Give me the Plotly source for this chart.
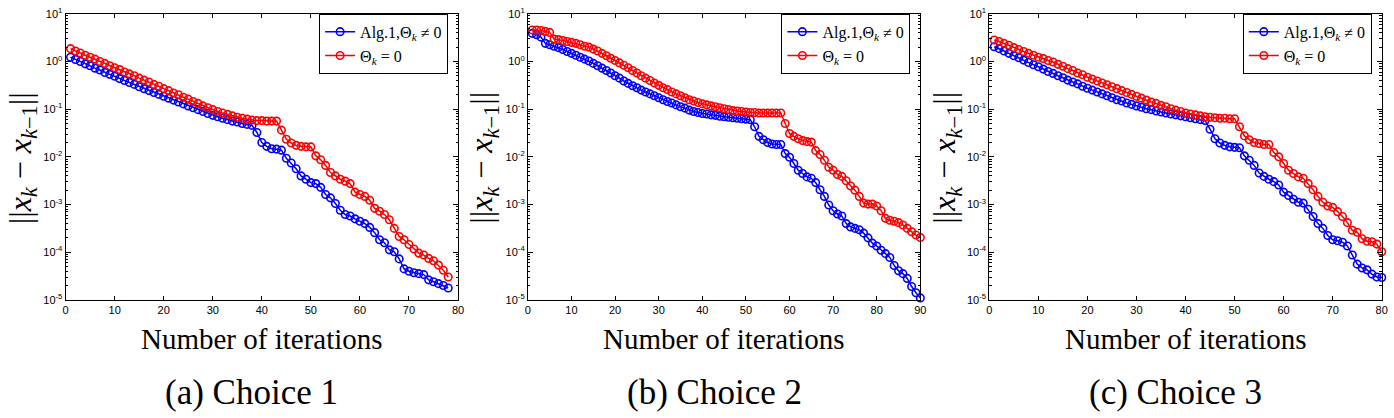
import plotly.graph_objects as go

# ---------------- data ----------------
iters_a = list(range(1, 79))
iters_b = list(range(1, 91))
iters_c = list(range(1, 81))

# (a) Choice 1
a_alg1 = [1.23, 1.10, 1.00, 8.91e-1, 8.13e-1, 7.24e-1, 6.61e-1, 5.89e-1, 5.37e-1, 4.90e-1,
          4.37e-1, 3.98e-1, 3.63e-1, 3.31e-1, 2.95e-1, 2.69e-1, 2.45e-1, 2.24e-1, 2.04e-1, 1.86e-1,
          1.70e-1, 1.55e-1, 1.41e-1, 1.29e-1, 1.17e-1, 1.07e-1, 9.77e-2, 8.91e-2, 8.13e-2, 7.41e-2,
          6.92e-2, 6.46e-2, 6.03e-2, 5.62e-2, 5.37e-2, 5.01e-2, 4.79e-2, 4.57e-2, 3.24e-2, 2.00e-2,
          1.66e-2, 1.48e-2, 1.45e-2, 1.38e-2, 9.33e-3, 7.41e-3, 5.62e-3, 3.98e-3, 3.39e-3, 2.88e-3,
          2.75e-3, 2.29e-3, 1.62e-3, 1.38e-3, 1.05e-3, 7.59e-4, 6.17e-4, 5.75e-4, 5.01e-4, 4.47e-4,
          3.98e-4, 3.31e-4, 2.57e-4, 1.82e-4, 1.58e-4, 1.12e-4, 1.02e-4, 7.24e-5, 4.47e-5, 3.98e-5,
          3.72e-5, 3.55e-5, 3.39e-5, 2.63e-5, 2.40e-5, 2.19e-5, 2.00e-5, 1.78e-5]
a_zero = [1.86, 1.66, 1.51, 1.35, 1.23, 1.12, 1.00, 9.12e-1, 8.13e-1, 7.41e-1,
          6.76e-1, 6.03e-1, 5.50e-1, 5.01e-1, 4.47e-1, 4.07e-1, 3.72e-1, 3.31e-1, 3.02e-1, 2.69e-1,
          2.45e-1, 2.19e-1, 2.00e-1, 1.78e-1, 1.62e-1, 1.45e-1, 1.32e-1, 1.17e-1, 1.07e-1, 9.77e-2,
          8.91e-2, 8.32e-2, 7.76e-2, 7.24e-2, 6.76e-2, 6.46e-2, 6.17e-2, 5.89e-2, 5.75e-2, 5.75e-2,
          5.62e-2, 5.62e-2, 5.62e-2, 3.63e-2, 2.34e-2, 1.95e-2, 1.74e-2, 1.66e-2, 1.62e-2, 1.62e-2,
          1.05e-2, 8.71e-3, 6.61e-3, 4.68e-3, 3.98e-3, 3.39e-3, 3.09e-3, 2.75e-3, 1.82e-3, 1.62e-3,
          1.48e-3, 1.23e-3, 8.32e-4, 7.24e-4, 6.17e-4, 4.79e-4, 3.16e-4, 2.14e-4, 1.82e-4, 1.45e-4,
          1.17e-4, 9.55e-5, 8.71e-5, 7.41e-5, 6.61e-5, 5.37e-5, 4.17e-5, 3.02e-5]

# (b) Choice 2
b_alg1 = [3.89, 3.63, 3.24, 2.40, 2.24, 2.09, 1.95, 1.78, 1.62, 1.48,
          1.35, 1.23, 1.12, 1.02, 9.12e-1, 8.13e-1, 7.24e-1, 6.46e-1, 5.75e-1, 5.01e-1,
          4.47e-1, 3.89e-1, 3.47e-1, 3.09e-1, 2.82e-1, 2.51e-1, 2.29e-1, 2.09e-1, 1.91e-1, 1.74e-1,
          1.58e-1, 1.45e-1, 1.35e-1, 1.23e-1, 1.12e-1, 1.05e-1, 9.55e-2, 8.91e-2, 8.51e-2, 8.13e-2,
          7.94e-2, 7.59e-2, 7.41e-2, 7.08e-2, 6.92e-2, 6.76e-2, 6.61e-2, 6.46e-2, 6.31e-2, 6.17e-2,
          6.03e-2, 4.27e-2, 2.69e-2, 2.29e-2, 2.00e-2, 1.86e-2, 1.82e-2, 1.82e-2, 1.17e-2, 9.77e-3,
          7.24e-3, 5.25e-3, 4.47e-3, 3.80e-3, 3.55e-3, 2.88e-3, 2.04e-3, 1.48e-3, 9.77e-4, 7.41e-4,
          6.31e-4, 5.75e-4, 3.98e-4, 3.39e-4, 3.16e-4, 2.95e-4, 2.51e-4, 2.00e-4, 1.55e-4, 1.35e-4,
          1.10e-4, 9.33e-5, 7.76e-5, 5.25e-5, 4.07e-5, 3.55e-5, 2.82e-5, 1.91e-5, 1.41e-5, 1.10e-5]
b_zero = [4.57, 4.57, 4.47, 4.27, 4.07, 2.95, 2.88, 2.75, 2.63, 2.51,
          2.40, 2.24, 2.09, 2.00, 1.82, 1.66, 1.48, 1.32, 1.17, 1.05,
          9.33e-1, 8.32e-1, 7.41e-1, 6.46e-1, 5.75e-1, 5.01e-1, 4.47e-1, 3.98e-1, 3.55e-1, 3.16e-1,
          2.82e-1, 2.57e-1, 2.29e-1, 2.09e-1, 1.91e-1, 1.74e-1, 1.58e-1, 1.48e-1, 1.38e-1, 1.29e-1,
          1.23e-1, 1.17e-1, 1.12e-1, 1.07e-1, 1.02e-1, 9.77e-2, 9.33e-2, 9.12e-2, 8.91e-2, 8.71e-2,
          8.51e-2, 8.51e-2, 8.32e-2, 8.32e-2, 8.32e-2, 8.32e-2, 8.32e-2, 8.32e-2, 5.01e-2, 3.09e-2,
          2.69e-2, 2.40e-2, 2.19e-2, 2.09e-2, 2.04e-2, 1.35e-2, 1.12e-2, 8.51e-3, 6.03e-3, 5.25e-3,
          4.27e-3, 3.89e-3, 3.16e-3, 2.45e-3, 2.00e-3, 1.48e-3, 1.07e-3, 1.02e-3, 1.02e-3, 9.33e-4,
          7.41e-4, 5.13e-4, 4.68e-4, 4.47e-4, 4.17e-4, 3.72e-4, 3.16e-4, 2.69e-4, 2.29e-4, 2.04e-4]

# (c) Choice 3
c_alg1 = [2.04, 1.86, 1.66, 1.48, 1.32, 1.20, 1.07, 9.55e-1, 8.51e-1, 7.76e-1,
          6.92e-1, 6.17e-1, 5.62e-1, 5.01e-1, 4.57e-1, 4.07e-1, 3.72e-1, 3.39e-1, 3.02e-1, 2.75e-1,
          2.51e-1, 2.29e-1, 2.09e-1, 1.91e-1, 1.74e-1, 1.58e-1, 1.48e-1, 1.35e-1, 1.26e-1, 1.17e-1,
          1.10e-1, 1.02e-1, 9.77e-2, 9.12e-2, 8.71e-2, 8.32e-2, 7.94e-2, 7.59e-2, 7.24e-2, 6.92e-2,
          6.61e-2, 6.31e-2, 6.03e-2, 5.75e-2, 3.80e-2, 2.40e-2, 1.95e-2, 1.74e-2, 1.62e-2, 1.58e-2,
          1.55e-2, 1.05e-2, 8.51e-3, 6.61e-3, 4.57e-3, 3.89e-3, 3.39e-3, 3.02e-3, 2.57e-3, 1.82e-3,
          1.55e-3, 1.29e-3, 1.12e-3, 1.07e-3, 7.94e-4, 5.62e-4, 3.98e-4, 3.16e-4, 2.24e-4, 1.82e-4,
          1.74e-4, 1.62e-4, 1.35e-4, 8.71e-5, 5.62e-5, 4.68e-5, 4.27e-5, 3.47e-5, 3.02e-5, 2.95e-5]
c_zero = [2.82, 2.63, 2.40, 2.19, 1.95, 1.78, 1.62, 1.48, 1.35, 1.23,
          1.15, 1.05, 9.77e-1, 8.71e-1, 7.94e-1, 7.08e-1, 6.46e-1, 5.75e-1, 5.25e-1, 4.68e-1,
          4.27e-1, 3.89e-1, 3.55e-1, 3.24e-1, 2.95e-1, 2.69e-1, 2.45e-1, 2.24e-1, 2.04e-1, 1.86e-1,
          1.70e-1, 1.55e-1, 1.41e-1, 1.32e-1, 1.20e-1, 1.12e-1, 1.02e-1, 9.55e-2, 8.91e-2, 8.32e-2,
          7.94e-2, 7.59e-2, 7.24e-2, 6.92e-2, 6.76e-2, 6.61e-2, 6.46e-2, 6.46e-2, 6.31e-2, 6.31e-2,
          4.27e-2, 2.75e-2, 2.29e-2, 2.00e-2, 1.91e-2, 1.82e-2, 1.82e-2, 1.23e-2, 1.00e-2, 7.24e-3,
          5.25e-3, 4.47e-3, 3.80e-3, 3.55e-3, 2.75e-3, 2.04e-3, 1.48e-3, 1.12e-3, 9.33e-4, 8.71e-4,
          7.08e-4, 5.62e-4, 4.17e-4, 2.88e-4, 2.63e-4, 1.91e-4, 1.70e-4, 1.66e-4, 1.48e-4, 1.02e-4]

series_names = ["Alg.1,\u0398<sub><i>k</i></sub> \u2260 0", "\u0398<sub><i>k</i></sub> = 0"]
captions = ["(a) Choice 1", "(b) Choice 2", "(c) Choice 3"]
x_max = [80, 90, 80]
y_tick_vals = [1e-5, 1e-4, 1e-3, 1e-2, 1e-1, 1e0, 1e1]
y_tick_text = ["10<sup>-5</sup>", "10<sup>-4</sup>", "10<sup>-3</sup>", "10<sup>-2</sup>",
               "10<sup>-1</sup>", "10<sup>0</sup>", "10<sup>1</sup>"]

# ---------------- layout geometry (pixels) ----------------
W, H = 1394, 418
plot_left = [63.0, 528.3, 992.7]
plot_width = 395.0
plot_top, plot_bottom = 6.0, 302.0
caption_cx = [250.0, 716.5, 1180.0]
ylabel_x = [19.5, 484.0, 950.0]

BLUE = "rgb(0,0,255)"
RED = "rgb(255,0,0)"
SERIF = "Liberation Serif, Times New Roman, serif"
SANS = "Liberation Sans, Arial, sans-serif"

minor_vals = [m * 10.0 ** e for e in range(-5, 1) for m in range(2, 10)]

fig = go.Figure()

panel_data = [(iters_a, a_alg1, a_zero), (iters_b, b_alg1, b_zero), (iters_c, c_alg1, c_zero)]
annotations = []
for i, (iters, s_alg, s_zero) in enumerate(panel_data):
    n = "" if i == 0 else str(i + 1)
    leg = "legend" + n
    for vals, color, name in ((s_alg, BLUE, series_names[0]), (s_zero, RED, series_names[1])):
        fig.add_trace(go.Scatter(
            x=iters, y=vals, mode="lines+markers", name=name,
            xaxis="x" + n, yaxis="y" + n, legend=leg, cliponaxis=False,
            line=dict(color=color, width=1.5),
            marker=dict(symbol="circle-open", size=7.5, color=color,
                        line=dict(color=color, width=1.6)),
        ))
    x0 = plot_left[i] / W
    x1 = (plot_left[i] + plot_width) / W
    y0 = 1 - plot_bottom / H
    y1 = 1 - plot_top / H
    fig.layout["xaxis" + n] = dict(
        domain=[x0, x1], anchor="y" + n, range=[0, x_max[i]],
        tickmode="linear", tick0=0, dtick=10, ticks="inside", ticklen=4,
        tickcolor="black", showline=True, linecolor="black", linewidth=1,
        mirror="ticks", showgrid=False, zeroline=False, ticklabeloverflow="allow",
        tickfont=dict(family=SANS, size=11, color="black"),
    )
    fig.layout["yaxis" + n] = dict(
        domain=[y0, y1], anchor="x" + n, type="log", range=[-5, 1],
        tickmode="array", tickvals=y_tick_vals, ticktext=y_tick_text,
        ticks="inside", ticklen=5, tickcolor="black", ticklabeloverflow="allow",
        minor=dict(tickmode="array", tickvals=minor_vals, ticks="inside",
                   ticklen=2.5, tickcolor="black", showgrid=False),
        showline=True, linecolor="black", linewidth=1, mirror="ticks",
        showgrid=False, zeroline=False,
        tickfont=dict(family=SANS, size=11, color="black"),
    )
    fig.layout[leg] = dict(
        x=(plot_left[i] + plot_width - 10) / W, y=1 - 37 / H,
        xanchor="right", yanchor="middle",
        bgcolor="white", bordercolor="black", borderwidth=1,
        font=dict(family=SERIF, size=16, color="black"),
        tracegroupgap=0, itemwidth=30,
    )
    cx = (plot_left[i] + plot_width / 2) / W
    annotations.append(dict(
        text="Number of iterations", x=cx, y=1 - 342 / H, xref="paper", yref="paper",
        xanchor="center", yanchor="middle", showarrow=False,
        font=dict(family=SERIF, size=29, color="black"),
    ))
    annotations.append(dict(
        text=captions[i], x=caption_cx[i] / W, y=1 - 398 / H, xref="paper", yref="paper",
        xanchor="center", yanchor="middle", showarrow=False,
        font=dict(family=SERIF, size=35, color="black"),
    ))
    annotations.append(dict(
        text="||<i>x</i><sub><i>k</i></sub> \u2212 <i>x</i><sub><i>k</i>\u22121</sub>||",
        x=ylabel_x[i] / W, y=1 - 155 / H, xref="paper", yref="paper",
        xanchor="center", yanchor="middle", showarrow=False, textangle=-90,
        font=dict(family=SERIF, size=32, color="black"),
    ))

fig.update_layout(
    width=W, height=H, autosize=False,
    margin=dict(l=0, r=0, t=0, b=0),
    paper_bgcolor="white", plot_bgcolor="white",
    showlegend=True, annotations=annotations,
)

fig.write_html("out.html", config={"displayModeBar": False},
               post_script="document.body.style.margin='0px';")
